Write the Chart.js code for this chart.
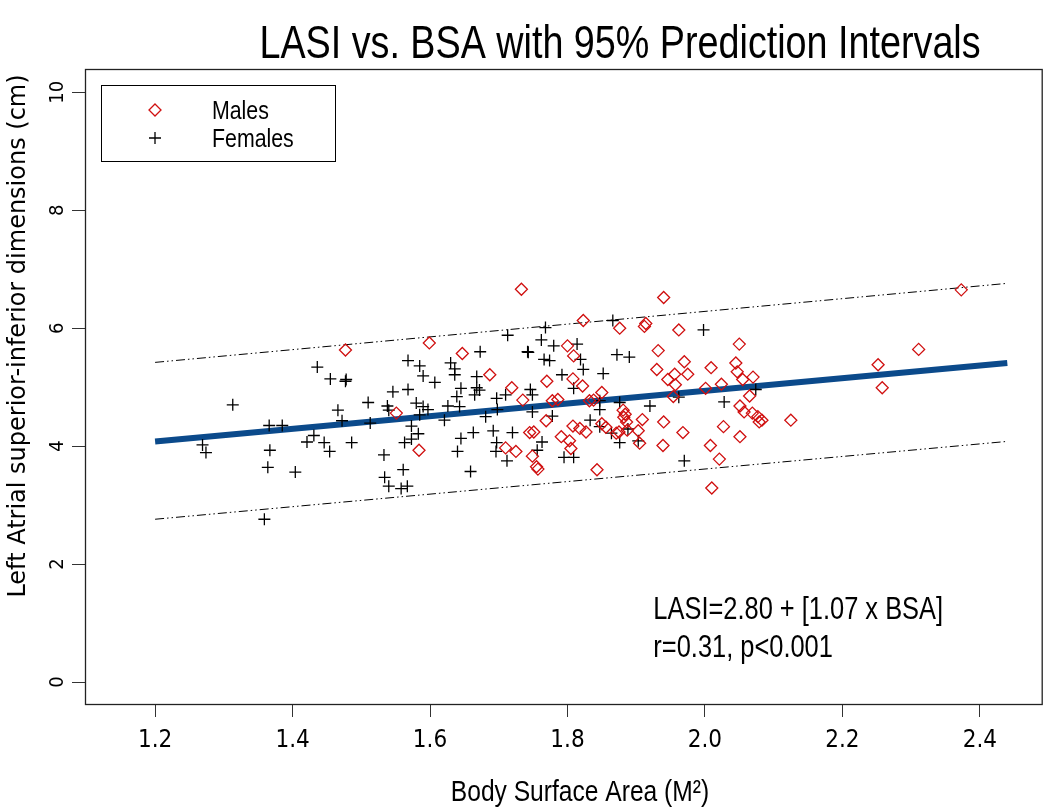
<!DOCTYPE html>
<html>
<head>
<meta charset="utf-8">
<script src="https://cdn.jsdelivr.net/npm/chart.js@4/dist/chart.umd.min.js"></script>
<style>
  body { margin: 0; background: #fff; }
  #wrap { width: 1050px; height: 807px; }
</style>
</head>
<body>
<div id="wrap"><canvas id="canvas" width="1050" height="807"></canvas></div>
<script>
// values
const maleBSA = [1.477, 1.551, 1.733, 1.823, 1.599, 1.647, 1.800, 1.809, 1.687, 1.770, 1.808, 1.822, 1.719, 1.735, 1.778, 1.786, 1.832, 1.838,
  1.769, 1.808, 1.818, 1.827, 1.745, 1.751, 1.791, 1.803, 1.805, 1.584, 1.710, 1.725, 1.749, 1.755, 1.757, 1.843,
  1.940, 1.876, 1.914, 1.912, 1.962, 2.050, 1.932, 1.970, 1.930, 2.009, 2.045, 2.047, 1.956, 1.975, 1.946, 2.055,
  2.070, 1.957, 2.001, 2.024, 1.850, 1.954, 2.065, 2.051, 2.057, 2.069, 2.077, 2.079, 2.083, 2.125, 1.881, 1.884,
  1.882, 1.909, 1.940, 1.886, 1.850, 1.856, 1.875, 1.871, 1.903, 1.887, 1.968, 2.027, 2.051, 1.905, 1.939, 2.008,
  2.021, 2.010, 2.373, 2.311, 2.252, 2.258];
const maleLASI = [5.63, 4.56, 6.66, 6.13, 5.75, 5.57, 5.70, 5.53, 5.21, 5.10, 5.14, 5.02, 4.99, 4.78, 4.77, 4.79, 4.77, 4.78,
  4.43, 4.34, 4.30, 4.24, 4.23, 4.24, 4.16, 4.09, 3.96, 3.93, 3.97, 3.91, 3.83, 3.65, 3.61, 3.60,
  6.52, 6.00, 6.08, 6.03, 5.97, 5.73, 5.62, 5.43, 5.30, 5.33, 5.41, 5.26, 5.22, 5.22, 5.13, 5.13,
  5.17, 5.04, 4.98, 5.05, 4.91, 4.84, 4.85, 4.68, 4.58, 4.56, 4.50, 4.41, 4.44, 4.44, 4.61, 4.54,
  4.49, 4.45, 4.41, 4.41, 4.38, 4.32, 4.24, 4.22, 4.26, 4.27, 4.23, 4.33, 4.16, 4.05, 4.01, 4.01,
  3.78, 3.29, 6.65, 5.64, 5.38, 4.99];

const femaleBSA = [1.436, 1.455, 1.477, 1.478, 1.546, 1.313, 1.510, 1.538, 1.540, 1.466, 1.366, 1.385, 1.472, 1.513, 1.269, 1.274,
  1.367, 1.431, 1.421, 1.446, 1.454, 1.486, 1.364, 1.404, 1.533, 1.534, 1.540, 1.359,
  1.768, 1.713, 1.762, 1.780, 1.814, 1.673, 1.742, 1.743, 1.766, 1.774, 1.819, 1.823, 1.568, 1.585, 1.590, 1.607,
  1.630, 1.636, 1.636, 1.668, 1.668, 1.672, 1.645, 1.639, 1.665, 1.697, 1.710, 1.746, 1.749, 1.792, 1.809, 1.568,
  1.580, 1.590, 1.597, 1.626, 1.643, 1.621, 1.681, 1.698, 1.749, 1.778, 1.833, 1.573, 1.583, 1.563, 1.573, 1.663,
  1.645, 1.692, 1.720, 1.697, 1.696, 1.763, 1.756, 1.640, 1.712, 1.795, 1.809, 1.659, 1.561, 1.558, 1.567, 1.585,
  1.866, 1.998, 1.872, 1.890, 1.852, 1.847, 1.876, 1.920, 1.962, 2.028, 2.074, 1.847, 1.847, 1.864, 1.888, 1.876,
  1.903, 1.970];
const femaleLASI = [5.34, 5.14, 5.10, 5.13, 4.92, 4.70, 4.74, 4.68, 4.61, 4.61, 4.35, 4.35, 4.43, 4.39, 4.02, 3.89,
  3.93, 4.18, 4.07, 4.06, 3.91, 4.06, 3.64, 3.56, 3.85, 3.47, 3.32, 2.76,
  6.01, 5.88, 5.80, 5.70, 5.73, 5.60, 5.60, 5.59, 5.47, 5.45, 5.47, 5.30, 5.45, 5.36, 5.19, 5.08,
  5.41, 5.31, 5.21, 5.18, 4.99, 4.95, 4.98, 4.84, 4.87, 4.81, 4.87, 4.96, 4.87, 5.21, 4.98, 4.96,
  4.73, 4.67, 4.62, 4.68, 4.67, 4.44, 4.50, 4.62, 4.58, 4.51, 4.44, 4.34, 4.21, 4.06, 4.12, 4.23,
  4.13, 4.26, 4.23, 4.06, 3.91, 4.07, 3.93, 3.91, 3.75, 3.81, 3.81, 3.57, 3.60, 3.28, 3.32, 4.53,
  6.13, 5.97, 5.55, 5.51, 5.23, 4.77, 4.74, 4.68, 4.83, 4.75, 4.96, 4.62, 4.33, 4.22, 4.29, 4.06,
  4.09, 3.75];

// regression line and 95% prediction limits (end points)
const lineBSA = [1.2, 2.44];
const fitLASI = [4.08, 5.41];
const upperLASI = [5.42, 6.76];
const lowerLASI = [2.76, 4.08];

const xTicks = [1.2, 1.4, 1.6, 1.8, 2.0, 2.2, 2.4];
const yTicks = [0, 2, 4, 6, 8, 10];

const RED = '#d01010';
const BLUE = '#0b4a8b';
const COND = '"DejaVu Sans Condensed", "DejaVu Sans", sans-serif';
const ARIAL = '"Liberation Sans", Arial, sans-serif';
const WIDE = '"DejaVu Sans", Verdana, sans-serif';

function pairs(xs, ys) {
    return xs.map((x, i) => ({ x: x, y: ys[i] }));
}

//the picture uses a tall narrow face, squeeze Liberation Sans to get close
function narrowText(ctx, text, x, y, size, align, baseline) {
    ctx.save();
    ctx.translate(x, y);
    ctx.scale(0.82, 1);
    ctx.font = size + 'px ' + ARIAL;
    ctx.textAlign = align;
    ctx.textBaseline = baseline;
    ctx.fillText(text, 0, 0);
    ctx.restore();
}

//frame, titles, legend and the equation text
const extras = {
    id: 'extras',
    beforeDraw(chart) {
        const ctx = chart.ctx;
        ctx.save();
        ctx.fillStyle = '#fff';
        ctx.fillRect(0, 0, chart.width, chart.height);
        ctx.restore();
    },
    afterDraw(chart) {
        const ctx = chart.ctx;
        const a = chart.chartArea;
        const xs = chart.scales.x, ys = chart.scales.y;
        ctx.save();
        // box round the plot
        ctx.strokeStyle = '#222';
        ctx.lineWidth = 1.3;
        ctx.strokeRect(a.left + 0.5, a.top + 0.5, a.right - a.left - 1, a.bottom - a.top);

        ctx.fillStyle = '#000';
        // title
        narrowText(ctx, 'LASI vs. BSA with 95% Prediction Intervals', 620, 58, 46, 'center', 'alphabetic');

        // axis titles
        narrowText(ctx, 'Body Surface Area (M\u00B2)', 580, 793, 30, 'center', 'middle');
        ctx.save();
        ctx.translate(19, 336);
        ctx.rotate(-Math.PI / 2);
        ctx.font = '24px ' + WIDE;
        ctx.textAlign = 'center';
        ctx.textBaseline = 'middle';
        ctx.fillText('Left Atrial superior-inferior dimensions (cm)', 0, 0);
        ctx.restore();

        // legend
        ctx.lineWidth = 1;
        ctx.strokeStyle = '#000';
        ctx.strokeRect(101.5, 85.5, 234, 76);
        ctx.strokeStyle = RED;
        ctx.lineWidth = 1.3;
        ctx.beginPath();
        ctx.moveTo(155, 104); ctx.lineTo(161, 110); ctx.lineTo(155, 116); ctx.lineTo(149, 110); ctx.closePath();
        ctx.stroke();
        ctx.strokeStyle = '#000';
        ctx.beginPath();
        ctx.moveTo(149, 138); ctx.lineTo(161, 138);
        ctx.moveTo(155, 132); ctx.lineTo(155, 144);
        ctx.stroke();
        narrowText(ctx, 'Males', 212, 112, 26, 'left', 'middle');
        narrowText(ctx, 'Females', 212, 140, 26, 'left', 'middle');

        // equation
        const ex = xs.getPixelForValue(1.925);
        narrowText(ctx, 'LASI=2.80 + [1.07 x BSA]', ex, ys.getPixelForValue(1.22), 31, 'left', 'middle');
        narrowText(ctx, 'r=0.31, p<0.001', ex, ys.getPixelForValue(0.57), 31, 'left', 'middle');
        ctx.restore();
    }
};

const ctx = document.getElementById('canvas').getContext('2d');
const myChart = new Chart(ctx, {
    type: 'scatter',
    data: {
        datasets: [{
            label: 'Males',
            data: pairs(maleBSA, maleLASI),
            pointStyle: 'rectRot',
            pointRadius: 6,
            pointBorderWidth: 1.3,
            borderColor: RED,
            backgroundColor: 'rgba(0,0,0,0)',
            order: 1
        }, {
            label: 'Females',
            data: pairs(femaleBSA, femaleLASI),
            pointStyle: 'cross',
            pointRadius: 6,
            pointBorderWidth: 1.3,
            borderColor: '#000',
            backgroundColor: '#000',
            order: 1
        }, {
            label: 'fit',
            data: pairs(lineBSA, fitLASI),
            showLine: true,
            borderColor: BLUE,
            borderWidth: 6,
            pointRadius: 0,
            order: 2
        }, {
            label: 'upper',
            data: pairs(lineBSA, upperLASI),
            showLine: true,
            borderColor: '#000',
            borderWidth: 1,
            borderDash: [9, 3, 1.5, 3, 1.5, 3],
            pointRadius: 0,
            order: 2
        }, {
            label: 'lower',
            data: pairs(lineBSA, lowerLASI),
            showLine: true,
            borderColor: '#000',
            borderWidth: 1,
            borderDash: [9, 3, 1.5, 3, 1.5, 3],
            pointRadius: 0,
            order: 2
        }]
    },
    options: {
        responsive: false,
        animation: false,
        devicePixelRatio: 1,
        layout: { padding: { top: 69, right: 1, left: 0, bottom: 0 } },
        plugins: {
            legend: { display: false },
            tooltip: { enabled: false }
        },
        scales: {
            x: {
                type: 'linear',
                min: 1.098,
                max: 2.4915,
                afterFit: s => { s.height = 103; },
                afterBuildTicks: s => { s.ticks = xTicks.map(v => ({ value: v })); },
                ticks: {
                    callback: v => v.toFixed(1),
                    font: { family: COND, size: 24 },
                    color: '#000',
                    padding: 9,
                    maxRotation: 0,
                    autoSkip: false
                },
                grid: { drawOnChartArea: false, tickLength: 13, color: '#333', lineWidth: 1 },
                border: { display: false }
            },
            y: {
                type: 'linear',
                min: -0.373,
                max: 10.395,
                afterFit: s => { s.width = 85; },
                afterBuildTicks: s => { s.ticks = yTicks.map(v => ({ value: v })); },
                ticks: {
                    font: { family: COND, size: 20 },
                    color: '#000',
                    minRotation: 90,
                    maxRotation: 90,
                    crossAlign: 'center',
                    padding: 3,
                    autoSkip: false
                },
                grid: { drawOnChartArea: false, tickLength: 13, color: '#333', lineWidth: 1 },
                border: { display: false }
            }
        }
    },
    plugins: [extras]
});
</script>
</body>
</html>
